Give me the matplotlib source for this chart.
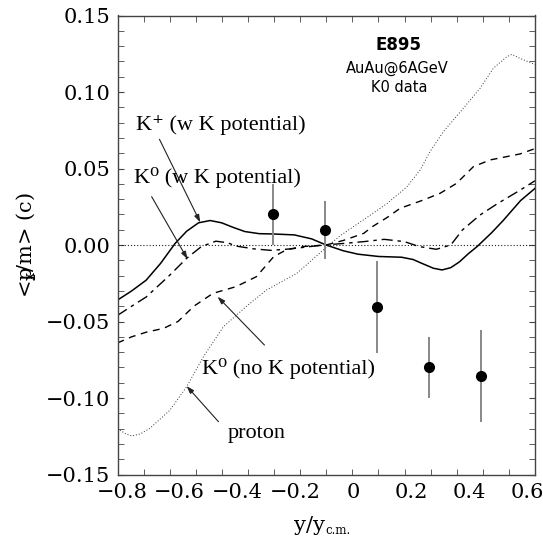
import matplotlib
matplotlib.use("Agg")
import matplotlib.pyplot as plt
import numpy as np

plt.rcParams['font.family'] = ['DejaVu Serif']
plt.rcParams['mathtext.fontset'] = 'dejavuserif'

# K+ (w K potential) - solid
kp_x = [-0.815, -0.766, -0.716, -0.666, -0.616, -0.576, -0.535, -0.495, -0.455, -0.415, -0.375,
        -0.325, -0.275, -0.204, -0.144, -0.094, -0.034, 0.016, 0.087, 0.167, 0.207, 0.237, 0.277,
        0.307, 0.337, 0.367, 0.397, 0.428, 0.478, 0.518, 0.578, 0.628]
kp_y = [-0.036, -0.030, -0.023, -0.012, 0.001, 0.009, 0.0145, 0.016, 0.0145, 0.0115, 0.0088,
        0.0074, 0.0072, 0.0066, 0.004, 0.0, -0.0038, -0.006, -0.0075, -0.008, -0.0095, -0.012, -0.0152,
        -0.0163, -0.0148, -0.011, -0.0058, -0.001, 0.008, 0.016, 0.029, 0.037]

# K0 (w K potential) - dash-dot
k0w_x = [-0.815, -0.766, -0.716, -0.636, -0.576, -0.525, -0.475, -0.435, -0.405, -0.345, -0.285, -0.214,
         -0.104, -0.034, 0.036, 0.107, 0.177, 0.227, 0.287, 0.337, 0.377, 0.438, 0.498, 0.578, 0.628]
k0w_y = [-0.046, -0.040, -0.034, -0.020, -0.0087, -0.001, 0.0025, 0.0015, -0.0007, -0.0025, -0.0035, -0.0025,
         0.0, 0.001, 0.0022, 0.0037, 0.0022, -0.001, -0.0028, 0.0, 0.0098, 0.0196, 0.027, 0.036, 0.042]

# K0 (no K potential) - dashed
k0n_x = [-0.815, -0.766, -0.716, -0.656, -0.606, -0.551, -0.485, -0.405, -0.335, -0.275, -0.23, -0.174,
         -0.094, -0.034, 0.036, 0.066, 0.117, 0.162, 0.242, 0.3, 0.357, 0.415, 0.473, 0.576, 0.628]
k0n_y = [-0.064, -0.060, -0.057, -0.0545, -0.050, -0.040, -0.0316, -0.0272, -0.0207, -0.0076, -0.003, -0.001,
         0.0, 0.003, 0.0076, 0.012, 0.018, 0.024, 0.0294, 0.0338, 0.0403, 0.0512, 0.0556, 0.0595, 0.063]

# proton - dotted
pr_x = [-0.815, -0.786, -0.766, -0.736, -0.703, -0.634, -0.576, -0.518, -0.449, -0.369, -0.3, -0.195,
        -0.104, -0.046, 0.034, 0.116, 0.185, 0.231, 0.265, 0.311, 0.38, 0.438, 0.484, 0.53, 0.548,
        0.576, 0.628]
pr_y = [-0.120, -0.1235, -0.1248, -0.1235, -0.1198, -0.108, -0.0926, -0.073, -0.0534, -0.040, -0.0294, -0.0185,
        -0.0033, 0.006, 0.0163, 0.027, 0.038, 0.049, 0.061, 0.074, 0.0893, 0.1024, 0.1155, 0.123, 0.1246,
        0.122, 0.118]

# E895 K0 data
data_x = [-0.279, -0.098, 0.081, 0.262, 0.442]
data_y = [0.020, 0.0098, -0.0403, -0.080, -0.0854]
data_err = [0.020, 0.019, 0.030, 0.020, 0.030]

x_labels = [-0.8, -0.6, -0.4, -0.2, 0, 0.2, 0.4, 0.6]
y_labels = [-0.15, -0.10, -0.05, 0.00, 0.05, 0.10, 0.15]

fig = plt.figure(figsize=(5.43, 5.39), dpi=100)
ax = fig.add_axes([117.5 / 543, 1 - 474.5 / 539, (535 - 117.5) / 543, (474.5 - 15.5) / 539])

xlim = (-0.815, 0.628)
ax.set_xlim(*xlim)
ax.set_ylim(-0.15, 0.15)

ax.axhline(0, color='#222222', lw=0.8, dashes=(1, 1.8))

ax.plot(kp_x, kp_y, color='black', lw=1.1, solid_joinstyle='round')
ax.plot(k0w_x, k0w_y, color='black', lw=1.0, dashes=(8, 3.5, 2.5, 3.5))
ax.plot(k0n_x, k0n_y, color='black', lw=1.0, dashes=(5, 4))
ax.plot(pr_x, pr_y, color='#333333', lw=0.7, dashes=(1, 2))

ax.errorbar(data_x, data_y, yerr=data_err, fmt='o', color='black', ms=7,
            ecolor='#888888', elinewidth=1.4, capsize=0, zorder=5)

# annotations
arrow = dict(arrowstyle='-|>,head_length=0.45,head_width=0.15', lw=0.8, color='#222222',
             shrinkA=0, shrinkB=0)
afont = dict(family=['Liberation Serif', 'DejaVu Serif'], fontsize=16, va='center', ha='left')
ax.text(-0.751, 0.0784, 'K\u207a (w K potential)', **afont)
ax.annotate('', xy=(-0.529, 0.0148), xytext=(-0.670, 0.0691), arrowprops=arrow)
ax.text(-0.758, 0.0438, 'K\u2070 (w K potential)', **afont)
ax.annotate('', xy=(-0.573, -0.0092), xytext=(-0.697, 0.0316), arrowprops=arrow)
ax.text(-0.523, -0.0804, 'K\u2070 (no K potential)', **afont)
ax.annotate('', xy=(-0.469, -0.0338), xytext=(-0.307, -0.0654), arrowprops=arrow)
ax.text(-0.433, -0.1229, 'proton', **afont)
ax.annotate('', xy=(-0.576, -0.0922), xytext=(-0.466, -0.1155), arrowprops=arrow)

def px2x(px):
    return xlim[0] + (px - 117.5) / (535 - 117.5) * (xlim[1] - xlim[0])

ax.text(px2x(398.7), 0.15 - (45 - 15.5) / 1530, 'E895', fontsize=12, fontweight='bold',
        family='DejaVu Sans', ha='center', va='center')
ax.text(px2x(397.5), 0.15 - (68.5 - 15.5) / 1530, 'AuAu@6AGeV', fontsize=10.5,
        family='DejaVu Sans', ha='center', va='center')
ax.text(px2x(399), 0.15 - (87.5 - 15.5) / 1530, 'K0 data', fontsize=10.5,
        family='DejaVu Sans', ha='center', va='center')

# ticks
ax.set_xticks(x_labels)
ax.set_xticklabels(['0' if v == 0 else f'{v:.1f}'.replace('-', '\u2212') for v in x_labels])
ax.set_yticks(y_labels)
ax.set_yticklabels([f'{v:.2f}'.replace('-', '\u2212') for v in y_labels])
ax.set_xticks(np.linspace(xlim[0], xlim[1], 17), minor=True)
ax.set_yticks(np.arange(-0.15, 0.1501, 0.01), minor=True)
ax.tick_params(axis='x', which='major', length=0, labelsize=15, pad=6)
ax.tick_params(axis='y', which='major', direction='in', length=4, labelsize=15, pad=5,
               right=True, color='#444444')
ax.tick_params(which='minor', direction='in', length=4, top=True, right=True, color='#444444')
for s in ax.spines.values():
    s.set_color('#444444')
    s.set_linewidth(1.0)

ax.set_ylabel(r'<p$\!\!\!\!_{\mathrm{x}}$/m> (c)', fontsize=15, labelpad=6)

# x label with subscript
t1 = ax.text(0.498, -(531 - 474.5) / 459, 'y/y', transform=ax.transAxes, fontsize=15,
             ha='right', va='baseline')
ax.annotate('c.m.', xy=(1.0, 0.0), xycoords=t1, xytext=(0, 1), textcoords='offset points',
            fontsize=8.5, ha='left', va='baseline')

fig.savefig('out.png', dpi=100)
